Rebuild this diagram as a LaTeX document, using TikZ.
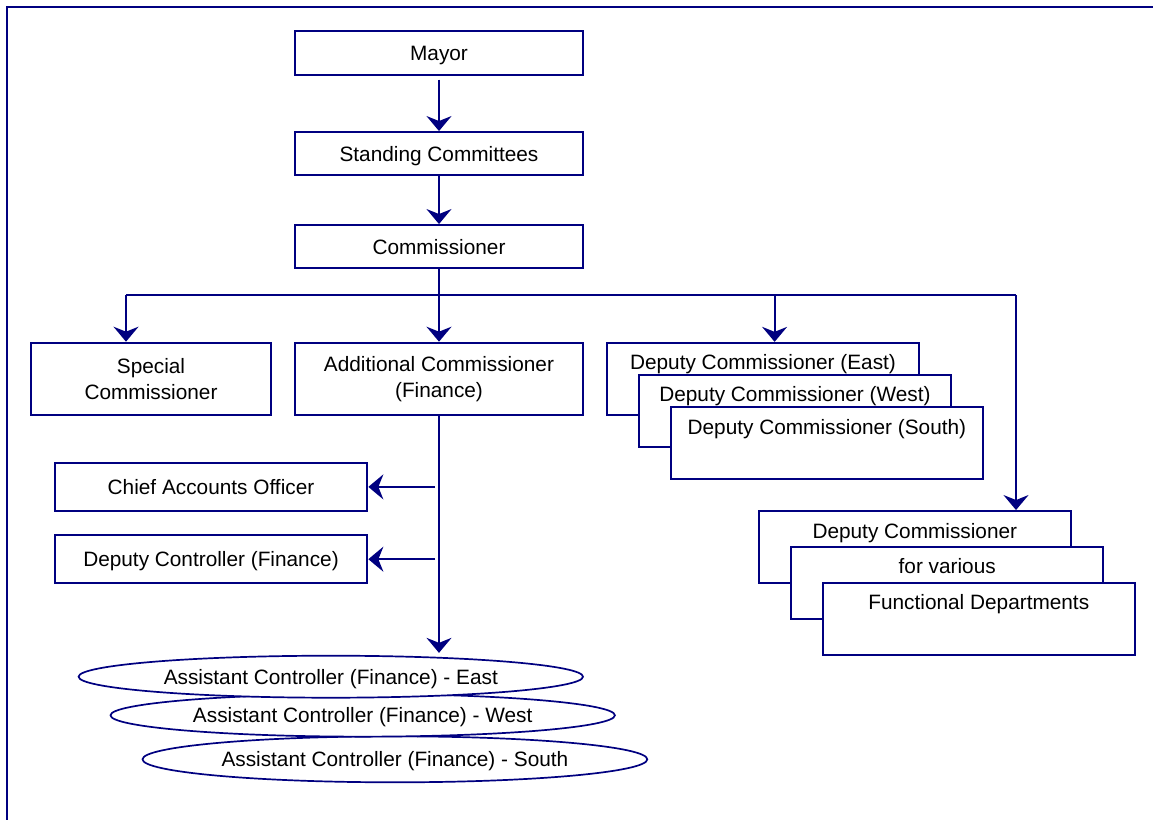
\documentclass[tikz,border=0pt]{standalone}
\usepackage{fontspec}
\setmainfont{Liberation Sans}
\usetikzlibrary{arrows.meta,shapes.geometric,calc}
\definecolor{navy}{RGB}{0,0,128}
\begin{document}
\begin{tikzpicture}[x=1pt,y=-1pt,
  conn/.style={draw=navy, line width=2pt},
  arr/.style={conn, -{Stealth[length=15pt,width=25pt,inset=5pt]}},
  box/.style={draw=navy, line width=2pt, fill=white, rectangle, inner sep=0pt},
  lbl/.style={font=\fontsize{20.8}{26}\selectfont, text=black, inner sep=0pt, align=center},
  one/.style={text height=15pt, text depth=0pt},
  oval/.style={draw=navy, line width=1.7pt, fill=white, ellipse, inner sep=0pt},
  dcbox/.style={box, minimum width=312.8pt, minimum height=72.3pt}]
\useasboundingbox (0,0) rectangle (1153,819);
\clip (0,0) rectangle (1153,819);
\fill[white] (0,0) rectangle (1153,819);
% frame
\draw[conn] (6.5,7) rectangle (1175,840);

% top chain
\node[box, lbl, one, minimum width=288.5pt, minimum height=43.4pt] (mayor) at (439,53) {Mayor};
\node[box, lbl, one, minimum width=288.5pt, minimum height=43.3pt] (sc) at (439,153.7) {Standing Committees};
\node[box, lbl, one, minimum width=288.5pt, minimum height=43.3pt] (comm) at (439,246.7) {Commissioner};

\draw[arr] ([yshift=-4pt]mayor.south) -- (sc.north);
\draw[arr] (sc.south) -- (comm.north);

% bus
\coordinate (bus) at (439,295);
\coordinate (busL) at (126,295);
\coordinate (busE) at (774.6,295);
\coordinate (busR) at (1016,295);

% second row
\node[box, lbl, minimum width=240.7pt, minimum height=72.6pt] (spc) at (151,379) {Special\\Commissioner};
\node[box, lbl, minimum width=288.3pt, minimum height=72.6pt] (addc) at (439,379) {Additional Commissioner\\(Finance)};

\node[dcbox] (dce) at (763,379) {};
\node[lbl, one] (dcet) at ([yshift=-20.5pt]dce.north) {Deputy Commissioner (East)};
\node[dcbox] (dcw) at (794.9,410.9) {};
\node[lbl, one] (dcwt) at ([yshift=-20.5pt]dcw.north) {Deputy Commissioner (West)};
\node[dcbox] (dcs) at (826.9,443.2) {};
\node[lbl, one] (dcst) at ([yshift=-20.5pt]dcs.north) {Deputy Commissioner (South)};

% functional departments stack
\node[dcbox, minimum width=312.2pt] (dv1) at (914.8,547.2) {};
\node[lbl, one] (dv1t) at ([yshift=-20.5pt]dv1.north) {Deputy Commissioner};
\node[dcbox, minimum width=312.2pt] (dv2) at (947.2,582.9) {};
\node[lbl, one] (dv2t) at ([yshift=-20.5pt]dv2.north) {for various};
\node[dcbox, minimum width=312.2pt] (dv3) at (978.8,619) {};
\node[lbl, one] (dv3t) at ([yshift=-20.5pt]dv3.north) {Functional Departments};

% finance branch
\node[box, lbl, one, minimum width=312.7pt, minimum height=48.3pt] (cao) at (211,486.9) {Chief Accounts Officer};
\node[box, lbl, one, minimum width=312.7pt, minimum height=48.3pt] (dcf) at (211,559.2) {Deputy Controller (Finance)};

% ellipses: lower ones drawn first, upper ones on top
\node[oval, lbl, one, minimum width=504.8pt, minimum height=46pt] (acs) at (394.9,759.3) {Assistant Controller (Finance) - South};
\node[oval, lbl, one, minimum width=504.4pt, minimum height=42.7pt] (acw) at (362.7,715.3) {Assistant Controller (Finance) - West};
\node[oval, lbl, one, minimum width=504.4pt, minimum height=42pt] (ace) at (330.8,676.7) {Assistant Controller (Finance) - East};

% connectors
\draw[conn] (comm.south) -- (bus);
\draw[conn] (busL) -- (busR);
\draw[arr] (busL) -- (busL |- spc.north);
\draw[arr] (bus) -- (addc.north);
\draw[arr] (busE) -- (busE |- dce.north);
\draw[arr] (busR) -- (busR |- dv1.north);

\draw[arr] (addc.south) -- ([yshift=2pt]addc.south |- ace.north);
\draw[arr] ($(addc.south |- cao.east)+(-4,0)$) -- (cao.east);
\draw[arr] ($(addc.south |- dcf.east)+(-4,0)$) -- (dcf.east);
\end{tikzpicture}
\end{document}
